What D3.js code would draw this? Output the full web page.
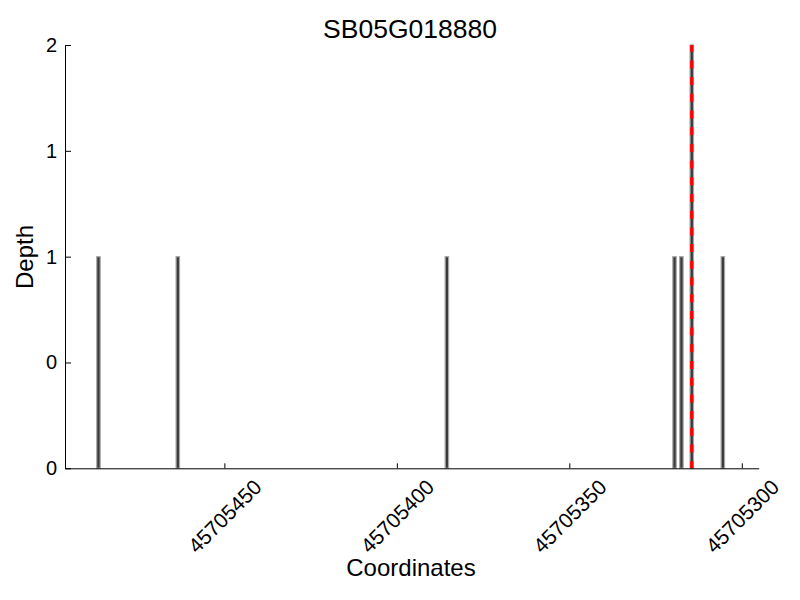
<!DOCTYPE html>
<html>
<head>
<meta charset="utf-8">
<script src="https://cdn.jsdelivr.net/npm/d3@7"></script>
<style>
  html, body { margin: 0; padding: 0; background: #fff; }
  svg { display: block; font-family: "Liberation Sans", Arial, Helvetica, sans-serif; }
</style>
</head>
<body>
<svg id="chart" width="800" height="600"></svg>
<script>
// ---- data ----
const chartTitle = "SB05G018880";
const xLabel = "Coordinates";
const yLabel = "Depth";
const positions = [45705486, 45705463, 45705385, 45705319, 45705317, 45705314, 45705305];
const depths    = [1, 1, 1, 1, 1, 2, 1];
const markerPositions = [45705314];
const xDomain = [45705496.2, 45705295.1];
const yDomain = [0, 2];
const xTickValues = [45705450, 45705400, 45705350, 45705300];
const xTickLabels = ["45705450", "45705400", "45705350", "45705300"];
const yTickValues = [0, 0.5, 1, 1.5, 2];
const yTickLabels = ["0", "0", "1", "1", "2"];

// ---- layout ----
const plotLeft = 65, plotRight = 758.7, plotTop = 45, plotBottom = 468.3;
const svg = d3.select("#chart");

const x = d3.scaleLinear().domain(xDomain).range([plotLeft, plotRight]);
const y = d3.scaleLinear().domain(yDomain).range([plotBottom, plotTop]);

// bars
svg.append("g").selectAll("rect")
  .data(positions.map((p, i) => ({p, d: depths[i]})))
  .join("rect")
  .attr("x", d => x(d.p + 1))
  .attr("width", d => x(d.p) - x(d.p + 1))
  .attr("y", d => y(d.d))
  .attr("height", d => y(0) - y(d.d))
  .attr("fill", "#3a3a3a")
  .attr("stroke", "#a8a8a8")
  .attr("stroke-width", 1.2);

// marker line(s)
svg.append("g").selectAll("line")
  .data(markerPositions)
  .join("line")
  .attr("x1", d => x(d + 0.5))
  .attr("x2", d => x(d + 0.5))
  .attr("y1", y(yDomain[1]))
  .attr("y2", y(yDomain[0]))
  .attr("stroke", "red")
  .attr("stroke-width", 3.3)
  .attr("stroke-dasharray", "8,8.7")
  .attr("stroke-dashoffset", 1.3);

// x axis
const xAxis = svg.append("g")
  .attr("transform", `translate(0,${plotBottom})`)
  .call(d3.axisBottom(x).tickValues(xTickValues)
    .tickFormat((d, i) => xTickLabels[i]).tickSizeInner(-5).tickSizeOuter(0));
xAxis.selectAll("text")
  .attr("x", 0).attr("y", 0).attr("dy", "0.35em")
  .attr("text-anchor", "middle")
  .attr("transform", "translate(0,48) rotate(-45)")
  .attr("font-size", 21)
  .attr("fill", "#000")
  .attr("font-family", "'Liberation Sans', Arial, Helvetica, sans-serif");

// y axis
const yAxis = svg.append("g")
  .attr("transform", `translate(${plotLeft},0)`)
  .call(d3.axisLeft(y).tickValues(yTickValues)
    .tickFormat((d, i) => yTickLabels[i]).tickSizeInner(-6).tickSizeOuter(0));
yAxis.selectAll("text")
  .attr("x", -8)
  .attr("font-size", 20)
  .attr("fill", "#000")
  .attr("font-family", "'Liberation Sans', Arial, Helvetica, sans-serif");

svg.selectAll(".domain, .tick line").attr("stroke", "#000").attr("stroke-width", 1);

// title & labels
svg.append("text")
  .attr("x", 410).attr("y", 37.5)
  .attr("text-anchor", "middle")
  .attr("font-size", 26.5)
  .text(chartTitle);

svg.append("text")
  .attr("x", 411).attr("y", 576)
  .attr("text-anchor", "middle")
  .attr("font-size", 24)
  .text(xLabel);

svg.append("text")
  .attr("transform", "translate(33,257) rotate(-90)")
  .attr("text-anchor", "middle")
  .attr("font-size", 24)
  .text(yLabel);
</script>
</body>
</html>
